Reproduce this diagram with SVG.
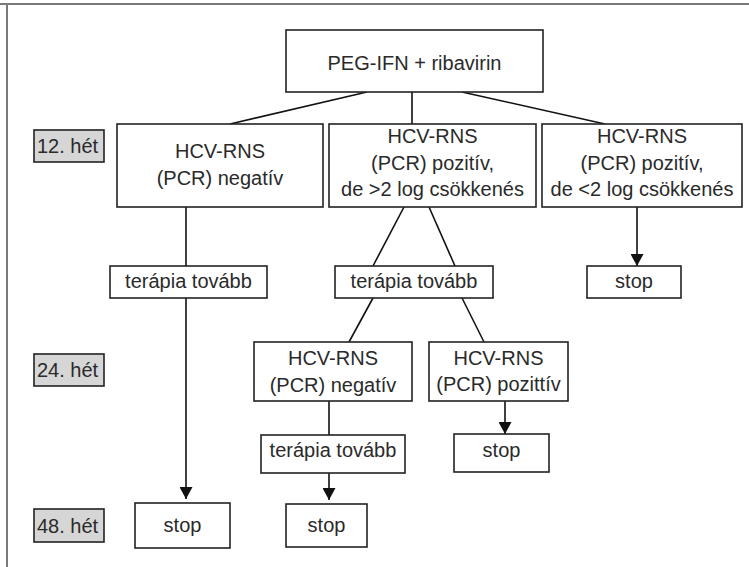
<svg xmlns="http://www.w3.org/2000/svg" width="749" height="567" viewBox="0 0 749 567">
<style>
.box{fill:#fff;stroke:#222;stroke-width:1.6}
.lbl{fill:#d6d6d6;stroke:#222;stroke-width:1.6}
.t{font-family:"Liberation Sans",Arial,sans-serif;font-size:20px;fill:#2a2a2a;text-anchor:middle}
.tl{font-family:"Liberation Sans",Arial,sans-serif;font-size:20px;fill:#2a2a2a;text-anchor:start}
.c{stroke:#111;stroke-width:1.6;fill:none}
.frame{stroke:#7a7a7a;stroke-width:2;fill:none}
</style>
<defs>
<marker id="arr" markerUnits="userSpaceOnUse" viewBox="0 0 12 13" markerWidth="12" markerHeight="13" refX="12" refY="6.5" orient="auto">
<path d="M0,0 L12,6.5 L0,13 z" fill="#111"/>
</marker>
</defs>
<rect width="749" height="567" fill="#fff"/>
<path class="frame" d="M0,4 H749 M7,4 V567"/>

<g id="connectors">
<line class="c" x1="367" y1="92" x2="230" y2="124"/>
<line class="c" x1="412" y1="92" x2="412" y2="124"/>
<line class="c" x1="462" y1="92" x2="605" y2="124"/>
<line class="c" x1="186" y1="207" x2="186" y2="266"/>
<line class="c" x1="186" y1="298" x2="186" y2="499" marker-end="url(#arr)"/>
<line class="c" x1="404" y1="207" x2="373" y2="266"/>
<line class="c" x1="429" y1="207" x2="455" y2="266"/>
<line class="c" x1="637" y1="207" x2="637" y2="266" marker-end="url(#arr)"/>
<line class="c" x1="373" y1="298" x2="349" y2="342"/>
<line class="c" x1="462" y1="298" x2="484" y2="342"/>
<line class="c" x1="329" y1="401" x2="329" y2="435"/>
<line class="c" x1="329" y1="473" x2="329" y2="500" marker-end="url(#arr)"/>
<line class="c" x1="505" y1="401" x2="505" y2="434" marker-end="url(#arr)"/>
</g>

<g id="peg">
<rect class="box" x="286" y="30" width="257" height="62"/>
<text class="t" x="414.5" y="70">PEG-IFN + ribavirin</text>
</g>

<g id="week12">
<rect class="lbl" x="34" y="130" width="70" height="32"/>
<text class="tl" x="37" y="153">12. hét</text>
</g>
<g id="week24">
<rect class="lbl" x="34" y="354" width="70" height="32"/>
<text class="tl" x="37" y="377">24. hét</text>
</g>
<g id="week48">
<rect class="lbl" x="34" y="509" width="70" height="33"/>
<text class="tl" x="37" y="533">48. hét</text>
</g>

<g id="l1-neg">
<rect class="box" x="117" y="124" width="206" height="83"/>
<text class="t" x="220" y="158">HCV-RNS</text>
<text class="t" x="220" y="185">(PCR) negatív</text>
</g>
<g id="l1-pos-gt2">
<rect class="box" x="329" y="124" width="207" height="83"/>
<text class="t" x="432.5" y="143">HCV-RNS</text>
<text class="t" x="432.5" y="170">(PCR) pozitív,</text>
<text class="t" x="432.5" y="196">de &gt;2 log csökkenés</text>
</g>
<g id="l1-pos-lt2">
<rect class="box" x="542" y="124" width="200" height="83"/>
<text class="t" x="642" y="143">HCV-RNS</text>
<text class="t" x="642" y="170">(PCR) pozitív,</text>
<text class="t" x="642" y="196">de &lt;2 log csökkenés</text>
</g>

<g id="therapy1">
<rect class="box" x="110" y="266" width="157" height="32"/>
<text class="t" x="188.5" y="288">terápia tovább</text>
</g>
<g id="therapy2">
<rect class="box" x="335" y="266" width="158" height="32"/>
<text class="t" x="414" y="288">terápia tovább</text>
</g>
<g id="stop12">
<rect class="box" x="587" y="266" width="94" height="32"/>
<text class="t" x="634" y="288">stop</text>
</g>

<g id="l2-neg">
<rect class="box" x="254" y="342" width="158" height="59"/>
<text class="t" x="333" y="365">HCV-RNS</text>
<text class="t" x="333" y="392">(PCR) negatív</text>
</g>
<g id="l2-pos">
<rect class="box" x="429" y="342" width="139" height="59"/>
<text class="t" x="498.5" y="365">HCV-RNS</text>
<text class="t" x="498.5" y="391">(PCR) pozittív</text>
</g>

<g id="therapy3">
<rect class="box" x="261" y="435" width="144" height="38"/>
<text class="t" x="333" y="457">terápia tovább</text>
</g>
<g id="stop24">
<rect class="box" x="454" y="434" width="95" height="38"/>
<text class="t" x="501.5" y="457">stop</text>
</g>

<g id="stop48a">
<rect class="box" x="135" y="503" width="95" height="45"/>
<text class="t" x="182.5" y="532">stop</text>
</g>
<g id="stop48b">
<rect class="box" x="286" y="504" width="81" height="43"/>
<text class="t" x="326.5" y="532">stop</text>
</g>
</svg>
